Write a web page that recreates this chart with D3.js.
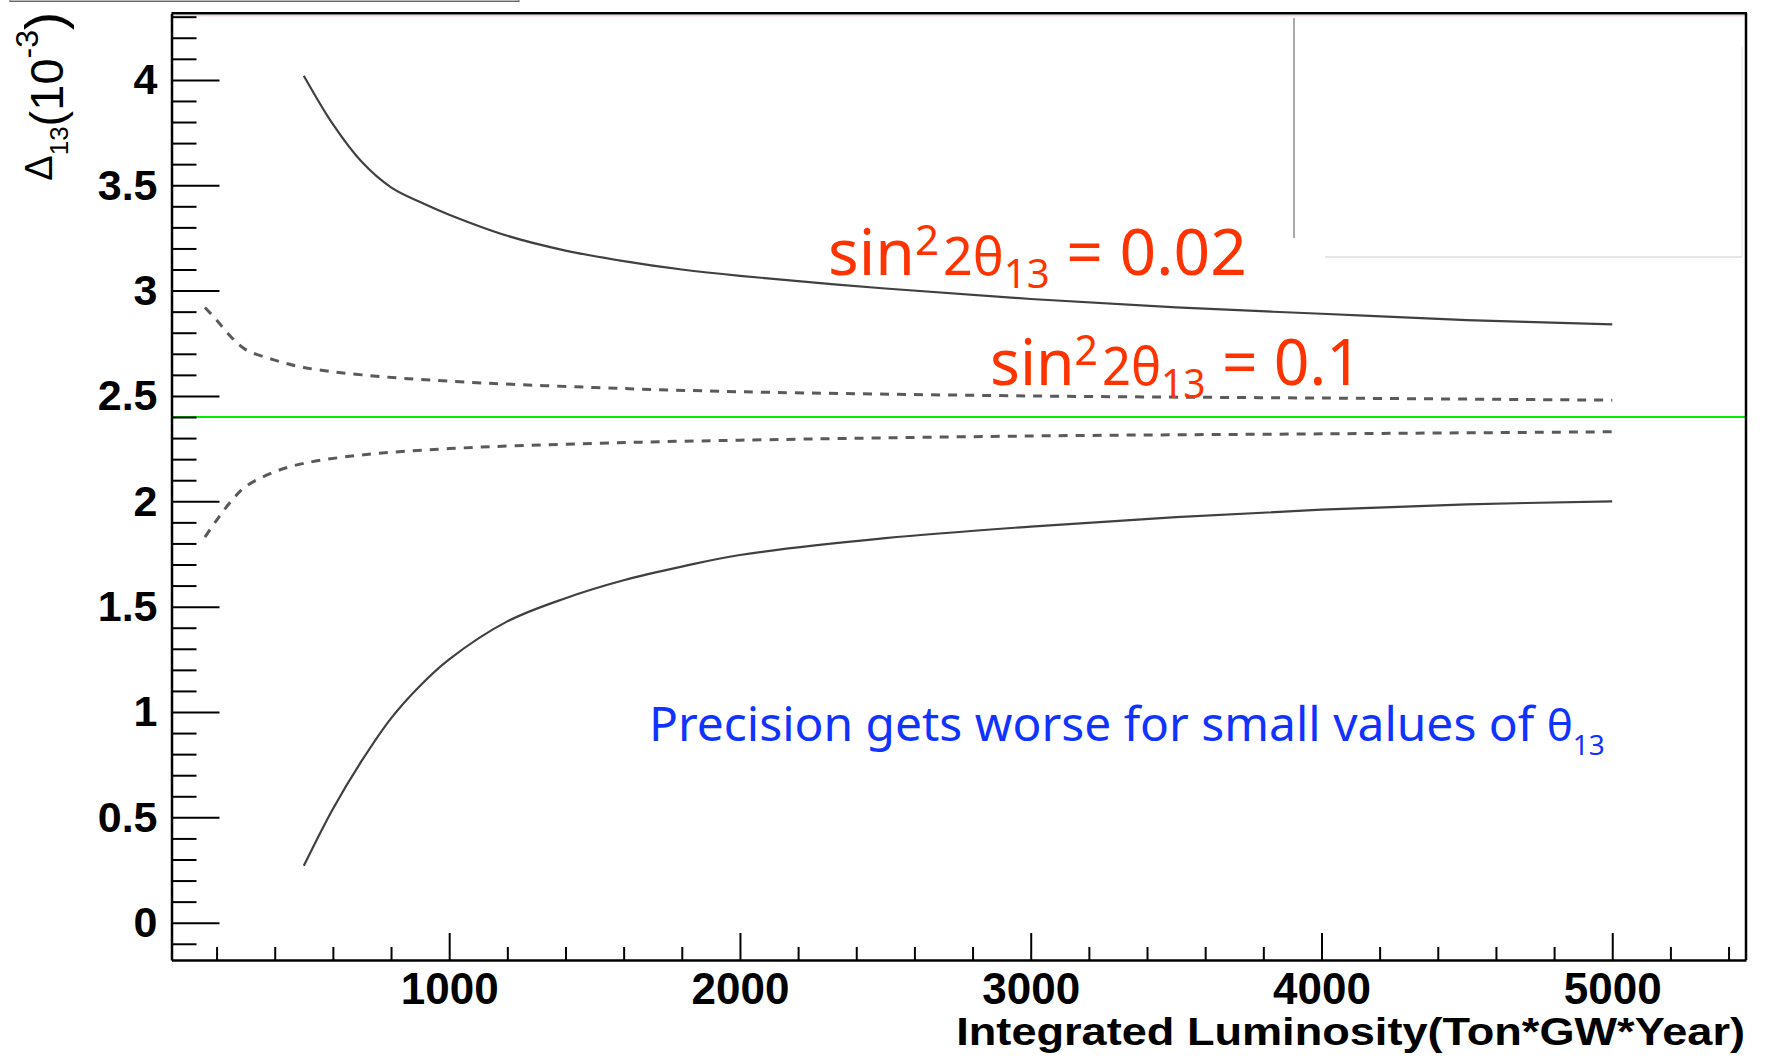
<!DOCTYPE html>
<html lang="en">
<head>
  <meta charset="utf-8">
  <title>Delta13 precision vs integrated luminosity</title>
  <script src="https://d3js.org/d3.v7.min.js"></script>
  <style>
    body { margin: 0; background: #fff; }
    svg { display: block; }
    .axis text { font-family: "Liberation Sans", Arial, sans-serif; font-weight: bold; fill: #000; }
    .axis line, .axis path { stroke: #000; }
    .note { font-family: "Comic Sans MS", "Noto Sans", sans-serif; }
  </style>
</head>
<body>
  <div id="chart"></div>
  <script>
    // axis ranges and tick labels
    var xRange = [45, 5460];
    var yRange = [-0.177, 4.316];
    var xMajorTicks = [1000, 2000, 3000, 4000, 5000];
    var yMajorTicks = [0, 0.5, 1, 1.5, 2, 2.5, 3, 3.5, 4];

    // sin^2 2theta13 = 0.02 band (solid)
    var lum02 = [500, 600, 700, 800, 900, 1000, 1200, 1400, 1600, 1800, 2000, 2500, 3000, 3500, 4000, 4500, 5000];
    var upper02 = [4.02, 3.79, 3.61, 3.49, 3.42, 3.36, 3.26, 3.19, 3.14, 3.10, 3.07, 3.01, 2.96, 2.92, 2.89, 2.86, 2.84];
    var lower02 = [0.27, 0.54, 0.77, 0.97, 1.125, 1.25, 1.43, 1.54, 1.625, 1.69, 1.745, 1.825, 1.88, 1.925, 1.96, 1.985, 2.00];

    // sin^2 2theta13 = 0.1 band (dashed)
    var lum10 = [160, 200, 250, 300, 400, 500, 700, 1000, 1500, 2000, 3000, 4000, 5000];
    var upper10 = [2.92, 2.86, 2.78, 2.72, 2.67, 2.635, 2.60, 2.57, 2.54, 2.52, 2.50, 2.49, 2.48];
    var lower10 = [1.83, 1.91, 2.00, 2.07, 2.14, 2.18, 2.22, 2.25, 2.275, 2.29, 2.31, 2.32, 2.33];

    // true value line
    var refValue = 2.4;

    function draw() {
      var W = 1769, H = 1060;
      var frame = {left: 171.5, right: 1746, top: 13.3, bottom: 960};

      var svg = d3.select('#chart').append('svg')
        .attr('width', W)
        .attr('height', H);

      var x = d3.scaleLinear().domain(xRange).range([frame.left, frame.right]);
      var y = d3.scaleLinear().domain(yRange).range([frame.bottom, frame.top]);

      // leftover box edge above the frame
      svg.append('rect')
        .attr('x', 10).attr('y', -3).attr('width', 509).attr('height', 4.5)
        .attr('fill', '#bbb').attr('stroke', '#666').attr('stroke-width', 1);

      // leftover legend lines in upper right
      svg.append('line')
        .attr('x1', 1294).attr('x2', 1294).attr('y1', 18).attr('y2', 238)
        .attr('stroke', '#555').attr('stroke-width', 1);
      svg.append('line')
        .attr('x1', 1325).attr('x2', 1742).attr('y1', 257).attr('y2', 257)
        .attr('stroke', '#ccc').attr('stroke-width', 1);
      svg.append('line')
        .attr('x1', 1742).attr('x2', 1742).attr('y1', 47).attr('y2', 257)
        .attr('stroke', '#e2e2e2').attr('stroke-width', 1);

      // reference line
      svg.append('line')
        .attr('x1', frame.left).attr('x2', frame.right)
        .attr('y1', y(refValue)).attr('y2', y(refValue))
        .attr('stroke', '#00ee00').attr('stroke-width', 2);

      var line = d3.line()
        .x(function(d) { return x(d[0]); })
        .y(function(d) { return y(d[1]); })
        .curve(d3.curveCatmullRom.alpha(0.5));

      function pairs(xs, ys) { return xs.map(function(v, i) { return [v, ys[i]]; }); }

      [upper02, lower02].forEach(function(s) {
        svg.append('path')
          .datum(pairs(lum02, s))
          .attr('d', line)
          .attr('fill', 'none')
          .attr('stroke', '#404040')
          .attr('stroke-width', 2.2);
      });
      [upper10, lower10].forEach(function(s) {
        svg.append('path')
          .datum(pairs(lum10, s))
          .attr('d', line)
          .attr('fill', 'none')
          .attr('stroke', '#5a5a5a')
          .attr('stroke-width', 3)
          .attr('stroke-dasharray', '9,8');
      });

      // frame top / right
      svg.append('line')
        .attr('x1', frame.left).attr('x2', frame.right).attr('y1', frame.top + 2.5).attr('y2', frame.top + 2.5)
        .attr('stroke', '#f2c4c4').attr('stroke-width', 1);
      svg.append('line')
        .attr('x1', frame.left).attr('x2', frame.right + 1).attr('y1', frame.top).attr('y2', frame.top)
        .attr('stroke', '#000').attr('stroke-width', 2.5);
      svg.append('line')
        .attr('x1', frame.right).attr('x2', frame.right).attr('y1', frame.top).attr('y2', frame.bottom)
        .attr('stroke', '#000').attr('stroke-width', 2.5);

      // axes: minor ticks
      var yMinor = d3.range(-1, 44).filter(function(i) { return i % 5 !== 0; }).map(function(i) { return i / 10; });
      var xMinor = d3.range(1, 28).filter(function(i) { return i % 5 !== 0; }).map(function(i) { return i * 200; });

      svg.append('g').attr('class', 'axis')
        .attr('transform', 'translate(' + frame.left + ',0)')
        .call(d3.axisLeft(y).tickValues(yMinor).tickSizeInner(-25).tickSizeOuter(0).tickFormat(''))
        .call(function(g) { g.select('.domain').remove(); g.selectAll('line').attr('stroke-width', 2); });
      svg.append('g').attr('class', 'axis')
        .attr('transform', 'translate(0,' + frame.bottom + ')')
        .call(d3.axisBottom(x).tickValues(xMinor).tickSizeInner(-13).tickSizeOuter(0).tickFormat(''))
        .call(function(g) { g.select('.domain').remove(); g.selectAll('line').attr('stroke-width', 2); });

      // axes: major ticks
      var yAxis = svg.append('g').attr('class', 'axis')
        .attr('transform', 'translate(' + frame.left + ',0)')
        .call(d3.axisLeft(y).tickValues(yMajorTicks).tickSizeInner(-48).tickSizeOuter(0)
          .tickPadding(14).tickFormat(function(d) { return String(d); }));
      yAxis.selectAll('line').attr('stroke-width', 2);
      yAxis.select('.domain').attr('stroke-width', 2.5);
      yAxis.selectAll('text').attr('font-size', 43);

      var xAxis = svg.append('g').attr('class', 'axis')
        .attr('transform', 'translate(0,' + frame.bottom + ')')
        .call(d3.axisBottom(x).tickValues(xMajorTicks).tickSizeInner(-27).tickSizeOuter(0)
          .tickPadding(13).tickFormat(function(d) { return String(d); }));
      xAxis.selectAll('line').attr('stroke-width', 2);
      xAxis.select('.domain').attr('stroke-width', 2.5);
      xAxis.selectAll('text').attr('font-size', 44);

      // fit text width by horizontal scaling around an anchor x
      function fit(sel, ax, target) {
        var w = sel.node().getBBox().width;
        sel.attr('transform', 'translate(' + ax + ',0) scale(' + (target / w) + ',1) translate(' + (-ax) + ',0)');
      }

      // x title
      var xt = svg.append('text')
        .attr('x', 1745).attr('y', 1045)
        .attr('text-anchor', 'end')
        .attr('font-family', '"Liberation Sans", Arial, sans-serif')
        .attr('font-weight', 'bold')
        .attr('font-size', 38)
        .text('Integrated Luminosity(Ton*GW*Year)');
      fit(xt, 1745, 789);

      // y title
      var yt = svg.append('g').attr('transform', 'translate(63,12) rotate(-90)')
        .append('text')
        .attr('text-anchor', 'end')
        .attr('font-family', '"Liberation Sans", Arial, sans-serif')
        .attr('font-size', 47);
      yt.append('tspan').attr('font-size', 38).attr('dy', -11).text('\u0394');
      yt.append('tspan').attr('font-size', 26).attr('dy', 16).text('13');
      yt.append('tspan').attr('dy', -5).text('(10');
      yt.append('tspan').attr('font-size', 32).attr('dy', -25).text('-3');
      yt.append('tspan').attr('font-size', 54).attr('dy', 25).text(')');

      // red annotations
      function sinLabel(x0, y0, value) {
        var t = svg.append('text').attr('class', 'note')
          .attr('x', x0).attr('y', y0)
          .attr('fill', '#ff3300')
          .attr('font-size', 64);
        t.append('tspan').text('sin');
        t.append('tspan').attr('font-size', 42).attr('dy', -20).text('2');
        t.append('tspan').attr('font-size', 52).attr('dy', 20).attr('dx', 4).text('2\u03b8');
        t.append('tspan').attr('font-size', 40).attr('dy', 13).text('13');
        t.append('tspan').attr('dy', -13).text(' = ' + value);
        return t;
      }
      fit(sinLabel(828, 275, '0.02'), 828, 419);
      fit(sinLabel(990, 385, '0.1'), 990, 372);

      // blue annotation
      var bt = svg.append('text').attr('class', 'note')
        .attr('x', 649).attr('y', 741)
        .attr('fill', '#1133ff')
        .attr('font-size', 48);
      bt.append('tspan').text('Precision gets worse for small values of ');
      bt.append('tspan').attr('font-size', 44).text('\u03b8');
      bt.append('tspan').attr('font-size', 28).attr('dy', 14).text('13');
      fit(bt, 649, 956);
    }

    draw();
  </script>
</body>
</html>
